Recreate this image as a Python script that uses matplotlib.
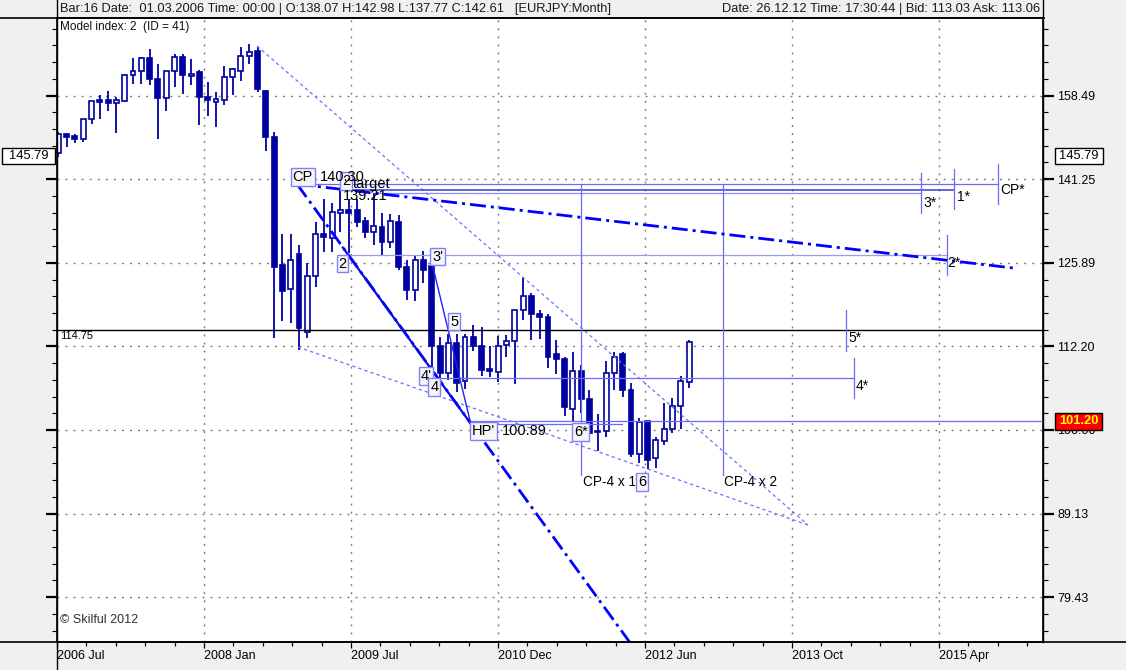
import numpy as np
import matplotlib
matplotlib.use('Agg')
import matplotlib.pyplot as plt
from matplotlib.patches import Rectangle
from matplotlib.lines import Line2D

plt.rcParams['font.family'] = ['Liberation Sans', 'DejaVu Sans']
plt.rcParams['lines.scale_dashes'] = False

# ---------------- data (EURJPY monthly, bar 1 = Aug 2006) ----------------
bar_index = np.arange(1, 78)
opens = [146.4, 150.3, 149.9, 149.2, 153.4, 157.5, 157.5, 156.8, 157.3, 163.0,
         163.9, 166.8, 162.1, 157.9, 163.9, 167.1, 162.8, 163.7, 158.1, 157.0,
         157.5, 162.5, 163.9, 167.3, 168.5, 159.5, 149.7, 125.5, 121.4, 127.4,
         114.4, 123.6, 131.0, 130.3, 134.8, 135.4, 135.4, 133.4, 131.3, 132.3,
         129.6, 133.1, 125.1, 121.3, 126.4, 125.3, 112.3, 108.1, 112.8, 107.0,
         113.7, 112.3, 108.7, 108.3, 112.4, 113.0, 117.9, 120.3, 117.4, 116.8,
         111.0, 110.2, 102.9, 108.4, 104.3, 99.9, 99.9, 108.1, 111.1, 105.6,
         96.8, 101.3, 96.2, 98.5, 100.2, 103.4, 106.9]
highs = [150.8, 150.5, 150.3, 153.4, 157.3, 158.6, 159.6, 158.2, 163.2, 166.8,
         167.1, 168.9, 165.5, 163.9, 167.8, 167.8, 166.6, 164.1, 161.4, 159.2,
         165.0, 164.6, 169.4, 170.1, 169.4, 159.7, 150.7, 131.0, 131.0, 129.0,
         125.8, 133.2, 137.4, 136.7, 139.2, 137.3, 137.4, 134.1, 138.5, 134.9,
         134.6, 134.5, 126.4, 127.3, 128.0, 126.0, 113.7, 114.2, 114.2, 114.2,
         115.6, 115.3, 112.2, 113.8, 113.9, 118.0, 123.2, 120.7, 118.0, 117.4,
         113.2, 110.6, 111.3, 109.3, 105.6, 102.2, 109.9, 111.4, 111.4, 106.7,
         101.6, 101.3, 99.1, 103.8, 104.5, 107.7, 113.2]
lows = [145.7, 147.6, 148.4, 148.7, 152.4, 153.5, 155.2, 150.6, 157.0, 161.0,
        161.0, 160.8, 149.2, 155.1, 160.4, 158.8, 160.8, 152.1, 154.0, 151.7,
        156.4, 158.6, 161.6, 165.5, 159.2, 146.9, 113.5, 116.2, 115.8, 111.7,
        113.5, 121.7, 127.8, 127.8, 131.4, 127.6, 132.2, 130.2, 129.0, 127.0,
        128.5, 124.7, 119.6, 119.5, 122.4, 108.9, 107.4, 107.1, 105.4, 105.8,
        111.5, 107.7, 107.5, 106.8, 110.6, 106.5, 116.4, 113.2, 113.3, 108.9,
        108.0, 101.9, 101.3, 102.3, 98.7, 97.1, 99.1, 105.6, 104.6, 96.4,
        95.5, 94.8, 94.9, 97.9, 99.6, 100.1, 105.9]
closes = [150.3, 149.8, 149.2, 153.4, 157.3, 157.2, 156.8, 157.5, 163.0, 163.9,
          166.8, 162.1, 157.9, 163.9, 167.1, 163.0, 163.2, 158.1, 157.5, 157.7,
          162.5, 164.3, 167.3, 168.2, 159.9, 149.6, 125.2, 121.1, 126.3, 115.1,
          123.6, 131.0, 130.4, 135.0, 135.3, 134.9, 133.2, 131.3, 132.5, 129.6,
          133.4, 125.1, 121.3, 126.3, 124.7, 112.2, 108.1, 112.8, 106.7, 113.7,
          112.3, 108.6, 108.5, 112.3, 113.0, 117.9, 120.3, 117.4, 116.8, 110.6,
          110.2, 103.2, 108.4, 104.3, 99.6, 99.7, 108.1, 110.5, 105.6, 96.8,
          101.1, 96.0, 98.6, 100.2, 103.4, 107.0, 112.9]

y_tick_values = [79.43, 89.13, 100.00, 112.20, 125.89, 141.25, 158.49]
y_tick_labels = ['79.43', '89.13', '100.00', '112.20', '125.89', '141.25', '158.49']
x_tick_labels = ['2006 Jul', '2008 Jan', '2009 Jul', '2010 Dec', '2012 Jun', '2013 Oct', '2015 Apr']

# model points (bar index, price)
cp_pt = (29.76, 140.30)
hp_pt = (50.69, 100.89)
two_pt = (35.28, 128.57)
three_pt = (46.0, 126.0)
upper_channel = [(24.94, 169.69), (91.33, 87.74)]
lower_channel = [(29.88, 112.11), (91.33, 87.74)]
cp_target_line = [(29.76, 140.30), (116.0, 125.0)]
cp_hp_ext = [(29.76, 140.30), (71.1, 73.2)]
level_lines = [  # (price, start bar, end bar, color, lw)
    (140.30, 29.76, 114.25, '#6a6aff', 0.9),
    (139.21, 34.95, 108.87, '#3a3ae0', 1.1),
    (138.54, 39.16, 104.98, '#8a8aff', 0.9),
    (127.25, 35.67, 108.04, '#9c9cf0', 0.9),
    (107.38, 45.99, 96.90, '#6a6aff', 0.9),
    (100.89, 50.69, 68.92, '#6a6aff', 0.9),
    (101.20, 50.69, 125.0, '#6a6aff', 0.9),
]
star_marks = [  # (bar, low price, high price, label, label bar, label price)
    (104.98, 134.83, 142.46, '3*', 105.18, 136.70),
    (108.87, 135.57, 143.25, '1*', 109.27, 137.83),
    (114.25, 136.51, 144.24, 'CP*', 114.45, 139.16),
    (108.04, 123.80, 130.80, '2*', 108.10, 125.89),
    (95.90, 111.54, 117.97, '5*', 96.14, 113.51),
    (96.90, 104.51, 110.42, '4*', 97.11, 106.25),
]
cp4_lines = [(64.01, 94.0, 140.30, 'CP-4 x 1', 64.25, 93.05),
             (81.05, 94.0, 140.30, 'CP-4 x 2', 81.24, 93.09)]
boxed_labels = [  # text, bar, price
    ('CP', 30.45, 141.68), ('2', 35.66, 140.90), ('2', 35.22, 125.74),
    ("3'", 46.69, 126.95), ('5', 48.70, 116.08), ("4'", 45.28, 107.75),
    ('4', 46.29, 106.07), ("HP'", 52.20, 99.89), ('6*', 63.96, 99.73),
    ('6', 71.35, 93.09)]
plain_labels = [('140.30', 32.5, 141.68), ('target', 36.5, 140.35),
                ('139.21', 35.29, 137.93), ('100.89', 54.4, 99.86)]
level_black = 114.75

# ---------------- figure ----------------
W, H = 1126, 670
NAVY = '#0000a0'
fig = plt.figure(figsize=(W / 100, H / 100), dpi=100, facecolor='#f0f0f0')
L, R, T, B = 57, 1043, 18, 642
ax = fig.add_axes([L / W, 1 - B / H, (R - L) / W, (B - T) / H])
ax.set_facecolor('white')
ax.set_yscale('log')
XLIM = (0.843, 119.64)
YLIM = (74.68, 176.36)

# grid
for yv in y_tick_values:
    ax.axhline(yv, color='#7a7a7a', lw=1.0, dashes=(1.4, 4.4), zorder=1)
x_step = 147 / 8.3
x_ticks = [XLIM[0] + k * x_step for k in range(len(x_tick_labels))]
for xv in x_ticks[1:]:
    ax.axvline(xv, color='#7a7a7a', lw=1.0, dashes=(1.4, 4.4), zorder=1)

# candles
o = np.array(opens); h = np.array(highs); l = np.array(lows); c = np.array(closes)
up = c >= o
ax.vlines(bar_index, l, h, color=NAVY, lw=1.3, zorder=3)
lo = np.minimum(o, c); hi = np.maximum(o, c)
ax.bar(bar_index[up], hi[up] - lo[up], bottom=lo[up], width=0.6, facecolor='white',
       edgecolor=NAVY, lw=1.2, zorder=4)
ax.bar(bar_index[~up], hi[~up] - lo[~up], bottom=lo[~up], width=0.6, facecolor=NAVY,
       edgecolor=NAVY, lw=1.2, zorder=4)

# channel lines
for seg in (upper_channel, lower_channel):
    ax.plot([seg[0][0], seg[1][0]], [seg[0][1], seg[1][1]], color='#6f6fff', lw=0.9,
            dashes=(2.4, 2.2), zorder=5)

# level lines
ax.axhline(level_black, color='black', lw=1.0, zorder=5)
for price, x0, x1, col, lw in level_lines:
    ax.plot([x0, x1], [price, price], color=col, lw=lw, zorder=5)

# CP-4 verticals
for xb, p0, p1, txt, tx, ty in cp4_lines:
    ax.plot([xb, xb], [p0, p1], color='#6a6aff', lw=0.9, zorder=5)
    ax.text(tx, ty, txt, fontsize=9.8, ha='left', va='center', color='black', zorder=7)

# star marks
for xb, p0, p1, txt, tx, ty in star_marks:
    ax.plot([xb, xb], [p0, p1], color='#6a6aff', lw=0.9, zorder=5)
    ax.text(tx, ty, txt, fontsize=10, ha='left', va='center', color='black', zorder=7)

# heavy dash-dot model lines
dd = (11.5, 3.6, 2.2, 3.6)
ax.plot([cp_target_line[0][0], cp_target_line[1][0]],
        [cp_target_line[0][1], cp_target_line[1][1]], color='#0000ff', lw=2.0,
        dashes=dd, zorder=6)
ax.plot([cp_hp_ext[0][0], cp_hp_ext[1][0]], [cp_hp_ext[0][1], cp_hp_ext[1][1]],
        color='#0000ff', lw=2.0, dashes=dd, zorder=6)
ax.plot([two_pt[0], hp_pt[0]], [two_pt[1], hp_pt[1]], color='#0a0ae6', lw=1.6, zorder=6)
ax.plot([three_pt[0], hp_pt[0]], [three_pt[1], hp_pt[1]], color='#2020ff', lw=1.0, zorder=6)

# labels
for txt, xb, pr in boxed_labels:
    ax.text(xb, pr, txt, fontsize=10.5, ha='center', va='center', color='black', zorder=8,
            bbox=dict(boxstyle='square,pad=0.12', fc='#f6f6f6', ec='#8080ff', lw=1.0))
for txt, xb, pr in plain_labels:
    ax.text(xb, pr, txt, fontsize=10.5, ha='left', va='center', color='black', zorder=8)
ax.text(1.2, 113.82, '114.75', fontsize=8, ha='left', va='center', color='black', zorder=8)
ax.text(1.2, 77.0, '\u00a9 Skilful 2012', fontsize=9, ha='left', va='center',
        color='#303030', zorder=8)
ax.text(0.003, 0.985, 'Model index: 2  (ID = 41)', transform=ax.transAxes, fontsize=8.5,
        ha='left', va='center', color='#101010')

# axes ticks
ax.set_yticks(y_tick_values)
ax.set_yticklabels(y_tick_labels)
minor_y = [10 ** (1.87 + 0.01 * k) for k in range(38)]
ax.set_yticks(minor_y, minor=True)
ax.yaxis.set_minor_formatter(matplotlib.ticker.NullFormatter())
ax.tick_params(axis='y', which='major', left=True, right=True, labelleft=False,
               labelright=True, length=7.9, width=1.6, labelsize=9, pad=2.2, direction='out')
ax.tick_params(axis='y', which='minor', left=True, right=True, length=3.6, width=0.8,
               direction='out')
ax.set_xticks(x_ticks)
ax.set_xticklabels(x_tick_labels)
ax.set_xticks([XLIM[0] + k * x_step / 5 for k in range(34)], minor=True)
ax.tick_params(axis='x', which='major', length=4.5, width=0.9, labelsize=9, pad=1.5,
               direction='out')
ax.tick_params(axis='x', which='minor', length=3.2, width=0.9, direction='out')
for lab in ax.get_xticklabels():
    lab.set_horizontalalignment('left')
for sp in ax.spines.values():
    sp.set_linewidth(1.2)

# limits last (set_ticks can widen the view)
ax.set_xlim(*XLIM)
ax.set_ylim(*YLIM)

# frame lines extending into panels
def fx(px):
    return px / W

def fy(py):
    return 1 - py / H

fig.add_artist(Line2D([0, fx(1044)], [fy(18), fy(18)], color='black', lw=1.2))
fig.add_artist(Line2D([0, 1], [fy(642), fy(642)], color='black', lw=1.2))
fig.add_artist(Line2D([fx(57), fx(57)], [0, 1], color='black', lw=1.0))
fig.add_artist(Line2D([fx(1043), fx(1043)], [fy(642), 1], color='black', lw=1.0))

# header texts
fig.text(fx(60), fy(9), 'Bar:16 Date:  01.03.2006 Time: 00:00 | O:138.07 H:142.98 '
         'L:137.77 C:142.61   [EURJPY:Month]', fontsize=9.3, ha='left', va='center',
         color='#1a1a1a')
fig.text(fx(1040), fy(9), 'Date: 26.12.12 Time: 17:30:44 | Bid: 113.03 Ask: 113.06',
         fontsize=9.3, ha='right', va='center', color='#1a1a1a')

# price boxes in side panels
def pbox(x0, y0, x1, y1, txt, fc, tc, bold=False):
    fig.add_artist(Rectangle((fx(x0), fy(y1)), fx(x1) - fx(x0), fy(y0) - fy(y1),
                             facecolor=fc, edgecolor='black', lw=1.0, zorder=10))
    fig.text(fx((x0 + x1) / 2), fy((y0 + y1) / 2), txt, fontsize=9.3, ha='center',
             va='center', color=tc, fontweight='bold' if bold else 'normal', zorder=11)

pbox(2, 148, 55, 164, '145.79', 'white', 'black')
pbox(1055, 148, 1103, 164, '145.79', 'white', 'black')
pbox(1055, 413, 1102, 430, '101.20', '#ff0000', '#ffff00', bold=True)

fig.savefig('out.png', dpi=100, facecolor=fig.get_facecolor())
